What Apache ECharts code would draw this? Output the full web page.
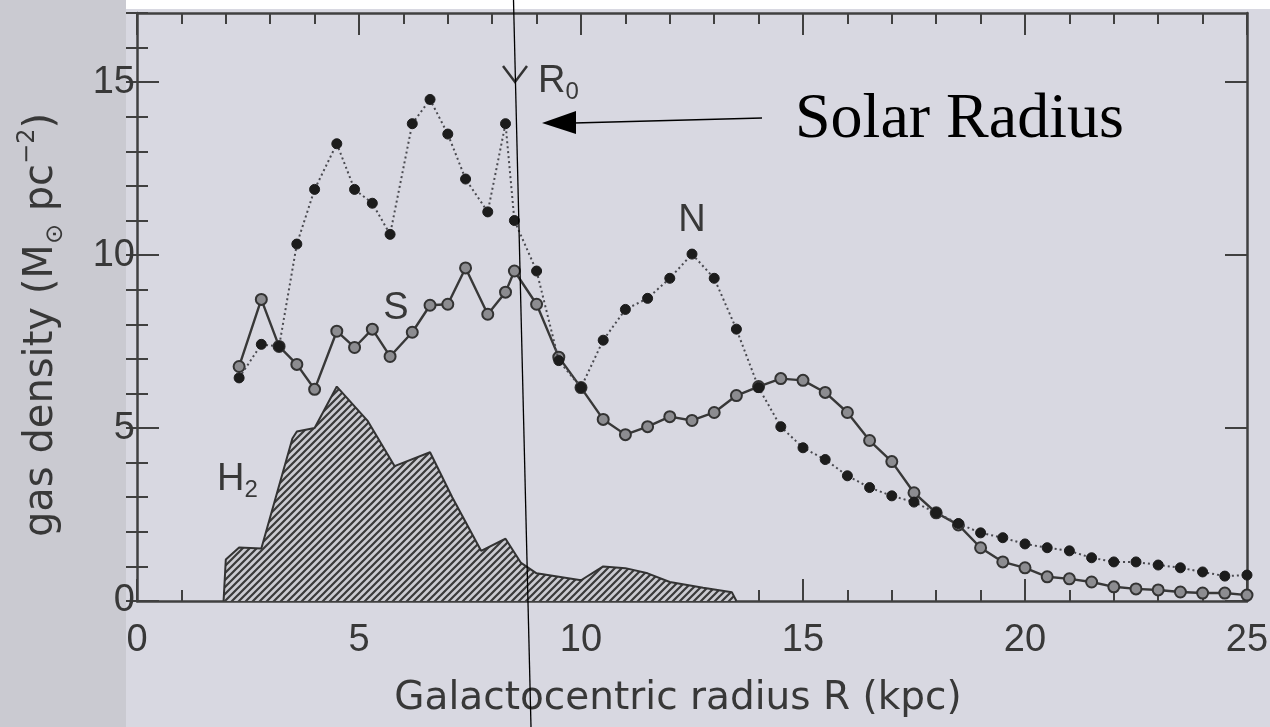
<!DOCTYPE html>
<html><head><meta charset="utf-8">
<script src="https://cdn.jsdelivr.net/npm/echarts@6/dist/echarts.min.js"></script>
<style>html,body{margin:0;padding:0;background:#d8d8e1;} #c{width:1270px;height:727px;}</style>
</head><body><div id="c"></div>
<script>
// ---- data ----
const xTickValues = [0, 5, 10, 15, 20, 25];
const yTickValues = [0, 5, 10, 15];
const xLabelText = 'Galactocentric radius R (kpc)';
// North (filled circles, dotted line)
const radiusN = [2.3,2.8,3.2,3.6,4.0,4.5,4.9,5.3,5.7,6.2,6.6,7.0,7.4,7.9,8.3,8.5,9.0,9.5,10.0,10.5,11.0,11.5,12.0,12.5,13.0,13.5,14.0,14.5,15.0,15.5,16.0,16.5,17.0,17.5,18.0,18.5,19.0,19.5,20.0,20.5,21.0,21.5,22.0,22.5,23.0,23.5,24.0,24.5,25.0];
const densityN = [6.45,7.42,7.36,10.32,11.9,13.22,11.9,11.5,10.6,13.8,14.5,13.5,12.2,11.25,13.8,11.0,9.54,6.95,6.17,7.54,8.43,8.75,9.33,10.03,9.33,7.86,6.17,5.04,4.43,4.09,3.62,3.28,3.04,2.86,2.55,2.24,1.97,1.83,1.65,1.54,1.45,1.25,1.13,1.13,1.04,0.96,0.84,0.72,0.75];
// South (open circles, solid line)
const radiusS = [2.3,2.8,3.2,3.6,4.0,4.5,4.9,5.3,5.7,6.2,6.6,7.0,7.4,7.9,8.3,8.5,9.0,9.5,10.0,10.5,11.0,11.5,12.0,12.5,13.0,13.5,14.0,14.5,15.0,15.5,16.0,16.5,17.0,17.5,18.0,18.5,19.0,19.5,20.0,20.5,21.0,21.5,22.0,22.5,23.0,23.5,24.0,24.5,25.0];
const densityS = [6.78,8.72,7.36,6.84,6.12,7.8,7.33,7.86,7.07,7.77,8.55,8.58,9.63,8.29,8.93,9.54,8.58,7.05,6.17,5.25,4.81,5.04,5.33,5.22,5.45,5.94,6.2,6.43,6.38,6.03,5.45,4.64,4.03,3.13,2.55,2.2,1.54,1.13,0.96,0.7,0.64,0.55,0.41,0.35,0.32,0.26,0.23,0.23,0.17];
// H2 (hatched area)
const radiusH2 = [1.95,2.0,2.3,2.8,3.5,3.6,4.0,4.5,5.2,5.8,6.6,7.1,7.75,8.3,8.65,9.0,10.0,10.5,11.0,11.5,12.0,12.75,13.4,13.5];
const densityH2 = [0,1.2,1.55,1.52,4.7,4.9,5.0,6.2,5.2,3.9,4.3,3.0,1.45,1.8,1.1,0.8,0.6,1.0,0.95,0.8,0.55,0.38,0.25,0];

const pairs = (xs, ys) => xs.map((x, i) => [x, ys[i]]);

function hatchPattern() {
  const c = document.createElement('canvas');
  c.width = 7; c.height = 7;
  const g = c.getContext('2d');
  g.fillStyle = '#cbcbd1'; g.fillRect(0, 0, 7, 7);
  g.strokeStyle = '#3a3a3a'; g.lineWidth = 2.2;
  g.beginPath();
  g.moveTo(-1, 8); g.lineTo(8, -1);
  g.moveTo(-1, 1); g.lineTo(1, -1);
  g.moveTo(6, 8); g.lineTo(8, 6);
  g.stroke();
  return c;
}

const axisCol = '#404040';
const fontSans = 'Liberation Sans, Arial, sans-serif';
const fontWide = 'DejaVu Sans, Verdana, sans-serif';

function xAxisDef(pos, showLabel) {
  return {
    type: 'value', position: pos, min: 0, max: 25, interval: 5,
    axisLine: { show: true, onZero: false, lineStyle: { color: axisCol, width: 2.5 } },
    axisTick: { show: true, inside: true, length: 22, lineStyle: { color: axisCol, width: 2 } },
    minorTick: { show: true, splitNumber: 5, length: 11, lineStyle: { color: axisCol, width: 2 } },
    splitLine: { show: false }, minorSplitLine: { show: false },
    axisLabel: { show: showLabel, margin: 21, fontSize: 38, color: '#383838', fontFamily: fontSans,
                 formatter: v => (xTickValues.includes(v) ? String(v) : '') },
    name: showLabel ? xLabelText : '', nameLocation: 'middle', nameGap: 78,
    nameTextStyle: { fontSize: 39, color: '#383838', fontFamily: fontWide, padding: [0, 28, 0, 0] }
  };
}
function yMajor(pos, showLabel) {
  return {
    type: 'value', position: pos, min: 0, max: 17, interval: 5,
    axisLine: { show: true, onZero: false, lineStyle: { color: axisCol, width: 2.5 } },
    axisTick: { show: true, inside: true, length: 22, customValues: yTickValues, lineStyle: { color: axisCol, width: 2 } },
    splitLine: { show: false },
    axisLabel: { show: showLabel, margin: 2, fontSize: 38, color: '#383838', fontFamily: fontSans,
                 customValues: yTickValues,
                 formatter: v => (yTickValues.includes(v) ? String(v) : '') }
  };
}
function yMinor(pos) {
  return {
    type: 'value', position: pos, min: 0, max: 17, interval: 1,
    axisLine: { show: false },
    axisTick: { show: true, inside: true, length: 11, lineStyle: { color: axisCol, width: 2 } },
    splitLine: { show: false }, axisLabel: { show: false }
  };
}

const chart = echarts.init(document.getElementById('c'), null, { renderer: 'canvas' });
chart.setOption({
  animation: false,
  backgroundColor: '#d8d8e1',
  grid: { left: 137, right: 23, top: 13, bottom: 126, containLabel: false, outerBoundsMode: 'none' },
  xAxis: [xAxisDef('bottom', true), xAxisDef('top', false)],
  yAxis: [yMajor('left', true), yMinor('left'), yMajor('right', false), yMinor('right')],
  series: [
    {
      name: 'H2', type: 'line', data: pairs(radiusH2, densityH2), symbol: 'none', z: 1,
      lineStyle: { color: '#333', width: 2 },
      areaStyle: { color: { image: hatchPattern(), repeat: 'repeat' }, opacity: 1 }
    },
    {
      name: 'S', type: 'line', data: pairs(radiusS, densityS), z: 3, clip: false,
      symbol: 'circle', symbolSize: 11,
      lineStyle: { color: '#383838', width: 2.4 },
      itemStyle: { color: '#8c8c90', borderColor: '#333', borderWidth: 2 }
    },
    {
      name: 'N', type: 'line', data: pairs(radiusN, densityN), z: 4, clip: false,
      symbol: 'circle', symbolSize: 10,
      lineStyle: { color: '#4a4a50', width: 2, type: [2, 3] },
      itemStyle: { color: '#1c1c1c', borderColor: '#1c1c1c', borderWidth: 1 }
    }
  ],
  graphic: [
    { type: 'rect', z: -10, silent: true, shape: { x: 0, y: 0, width: 126, height: 727 }, style: { fill: '#cacad1' } },
    { type: 'rect', z: -10, silent: true, shape: { x: 126, y: 0, width: 1144, height: 9 }, style: { fill: '#ffffff' } },
    // y axis title
    { type: 'text', x: 42, y: 325, rotation: Math.PI / 2, z: 10,
      style: { text: '{n|gas density (M}{sub|⊙}{n| pc}{sup|−2}{n|)}', align: 'center', verticalAlign: 'middle',
        rich: {
          n: { fontSize: 40, fontFamily: fontWide, fill: '#383838', lineHeight: 52 },
          sub: { fontSize: 24, fontFamily: fontWide, fill: '#383838', lineHeight: 24, verticalAlign: 'bottom' },
          sup: { fontSize: 24, fontFamily: fontWide, fill: '#383838', lineHeight: 24, verticalAlign: 'top' }
        } } },
    // series labels
    { type: 'text', x: 692, y: 221, z: 10, style: { text: 'N', fontSize: 38, fontFamily: fontSans, fill: '#383838', align: 'center', verticalAlign: 'middle' } },
    { type: 'text', x: 396, y: 309, z: 10, style: { text: 'S', fontSize: 38, fontFamily: fontSans, fill: '#383838', align: 'center', verticalAlign: 'middle' } },
    { type: 'text', x: 217, y: 480, z: 10, style: { text: '{h|H}{s|2}', verticalAlign: 'middle', align: 'left',
        rich: { h: { fontSize: 38, fontFamily: fontSans, fill: '#383838', lineHeight: 44 },
                s: { fontSize: 24, fontFamily: fontSans, fill: '#383838', lineHeight: 24, verticalAlign: 'bottom' } } } },
    // R0 marker of original figure
    { type: 'polyline', z: 10, shape: { points: [[503, 66], [515, 82], [527, 66]] }, style: { stroke: '#333', lineWidth: 2.5, fill: null } },
    { type: 'text', x: 538, y: 82, z: 10, style: { text: '{r|R}{s|0}', verticalAlign: 'middle', align: 'left',
        rich: { r: { fontSize: 38, fontFamily: fontSans, fill: '#383838', lineHeight: 44 },
                s: { fontSize: 24, fontFamily: fontSans, fill: '#383838', lineHeight: 24, verticalAlign: 'bottom' } } } },
    // overlay annotation
    { type: 'line', z: 20, shape: { x1: 513.5, y1: 0, x2: 531, y2: 727 }, style: { stroke: '#000', lineWidth: 1.3 } },
    { type: 'line', z: 20, shape: { x1: 762, y1: 118, x2: 574, y2: 123 }, style: { stroke: '#000', lineWidth: 1.3 } },
    { type: 'polygon', z: 20, shape: { points: [[542, 123], [576, 111], [576, 134]] }, style: { fill: '#000' } },
    { type: 'text', x: 795, y: 120, z: 20, style: { text: 'Solar Radius', fontSize: 64, fontFamily: 'Liberation Serif, Times New Roman, serif', fill: '#000', verticalAlign: 'middle', align: 'left' } }
  ]
});
</script>
</body></html>
